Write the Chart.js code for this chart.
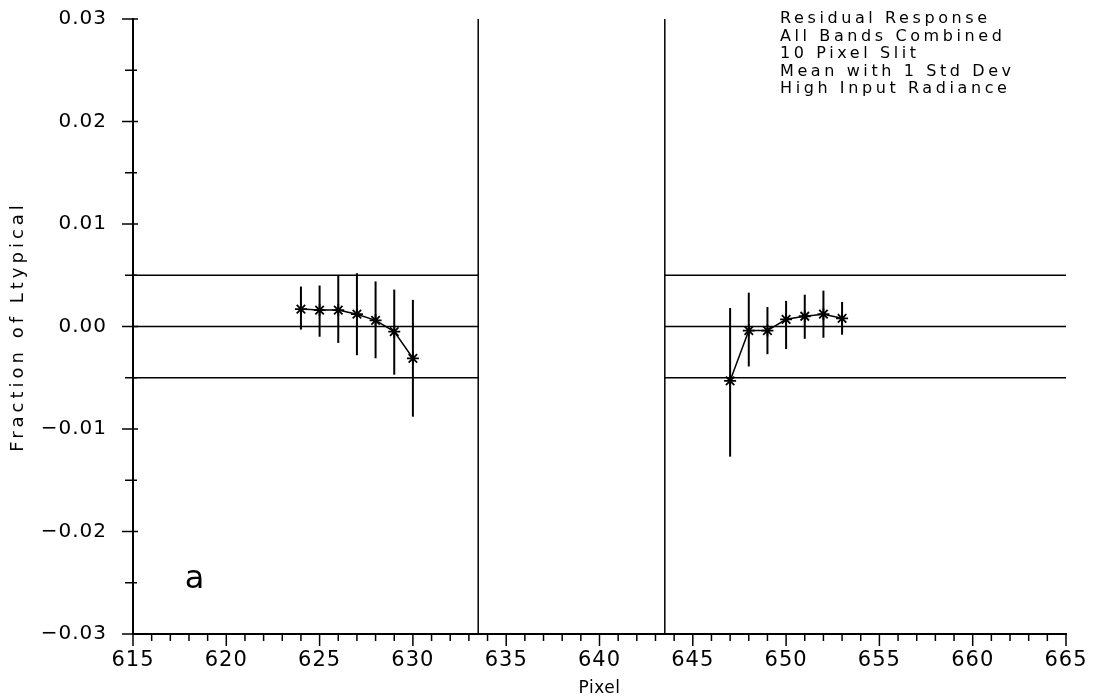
<!DOCTYPE html>
<html>
<head>
<meta charset="utf-8">
<title>Residual Response</title>
<script src="https://cdn.jsdelivr.net/npm/chart.js@4/dist/chart.umd.min.js"></script>
<style>
  html, body { margin: 0; padding: 0; background: #fff; }
  #wrap { width: 1093px; height: 700px; }
</style>
</head>
<body>
<div id="wrap"><canvas id="residualChart" width="1093" height="700"></canvas></div>
<script>
// pixels and mean residual with 1 std dev range
const pixelsLeft = [624, 625, 626, 627, 628, 629, 630];
const meanLeft = [0.0017, 0.0016, 0.0016, 0.0012, 0.0006, -0.0005, -0.0031];
const highLeft = [0.0039, 0.0040, 0.0050, 0.0052, 0.0044, 0.0036, 0.0026];
const lowLeft = [-0.0003, -0.0010, -0.0016, -0.0028, -0.0031, -0.0047, -0.0088];

const pixelsRight = [647, 648, 649, 650, 651, 652, 653];
const meanRight = [-0.0053, -0.0004, -0.0004, 0.0007, 0.0010, 0.0012, 0.0008];
const highRight = [0.0018, 0.0033, 0.0019, 0.0025, 0.0031, 0.0035, 0.0024];
const lowRight = [-0.0127, -0.0039, -0.0027, -0.0022, -0.0012, -0.0011, -0.0008];

// reference levels and the gap between the two pixel blocks
const refLevels = [0.005, 0, -0.005];
const gapEdges = [633.5, 643.5];

const xTicks = [615, 665];
const yTicks = [-0.03, 0.03];

const noteLines = [
  "Residual Response",
  "All Bands Combined",
  "10 Pixel Slit",
  "Mean with 1 Std Dev",
  "High Input Radiance",
];
const panelLabel = "a";
const xTitle = "Pixel";
const yTitle = "Fraction of Ltypical";

const FONT = "'DejaVu Sans', sans-serif";

const toPoints = (xs, ys) => xs.map((x, i) => ({ x: x, y: ys[i] }));

/**
 * Reference lines, error bars, ticks, titles and the notes
 */
const decorPlugin = {
  id: "decor",
  beforeDraw(chart) {
    chart.ctx.letterSpacing = "1px";
  },
  beforeDatasetsDraw(chart) {
    const { ctx, scales: { x, y } } = chart;
    const top = y.getPixelForValue(yTicks[1]);
    const bottom = y.getPixelForValue(yTicks[0]);
    ctx.save();
    ctx.strokeStyle = "#000";
    ctx.lineWidth = 1.5;
    // vertical gap edges
    gapEdges.forEach((g) => {
      const px = x.getPixelForValue(g);
      ctx.beginPath();
      ctx.moveTo(px, top);
      ctx.lineTo(px, bottom);
      ctx.stroke();
    });
    // horizontal reference levels in both blocks
    const segments = [[xTicks[0], gapEdges[0]], [gapEdges[1], xTicks[1]]];
    refLevels.forEach((lv) => {
      const py = y.getPixelForValue(lv);
      segments.forEach(([a, b]) => {
        ctx.beginPath();
        ctx.moveTo(x.getPixelForValue(a), py);
        ctx.lineTo(x.getPixelForValue(b), py);
        ctx.stroke();
      });
    });
    // error bars
    ctx.lineWidth = 2;
    const bars = [
      [pixelsLeft, lowLeft, highLeft],
      [pixelsRight, lowRight, highRight],
    ];
    bars.forEach(([xs, lo, hi]) => {
      xs.forEach((p, i) => {
        const px = x.getPixelForValue(p);
        ctx.beginPath();
        ctx.moveTo(px, y.getPixelForValue(lo[i]));
        ctx.lineTo(px, y.getPixelForValue(hi[i]));
        ctx.stroke();
      });
    });
    ctx.restore();
  },
  afterDraw(chart) {
    const { ctx, chartArea, scales: { x, y } } = chart;
    const axisY = y.getPixelForValue(yTicks[0]);
    const axisX = x.getPixelForValue(xTicks[0]);
    ctx.save();
    ctx.strokeStyle = "#000";
    ctx.lineWidth = 1.5;
    // x ticks, every pixel, longer every 5
    for (let v = xTicks[0]; v <= xTicks[1]; v++) {
      const px = x.getPixelForValue(v);
      const len = v % 5 === 0 ? 12 : 7;
      ctx.beginPath();
      ctx.moveTo(px, axisY);
      ctx.lineTo(px, axisY + len);
      ctx.stroke();
    }
    // y ticks, every 0.005, crossing the axis
    for (let k = -6; k <= 6; k++) {
      const py = y.getPixelForValue(k * 0.005);
      const major = k % 2 === 0;
      ctx.beginPath();
      ctx.moveTo(axisX - (major ? 11 : 8), py);
      ctx.lineTo(axisX + (major ? 5 : 4), py);
      ctx.stroke();
    }
    ctx.fillStyle = "#000";
    // axis titles
    ctx.textAlign = "center";
    ctx.textBaseline = "middle";
    ctx.font = "17px " + FONT;
    ctx.letterSpacing = "0.5px";
    ctx.fillText(xTitle, (chartArea.left + chartArea.right) / 2, 689);
    ctx.save();
    ctx.translate(18, (chartArea.top + chartArea.bottom) / 2);
    ctx.rotate(-Math.PI / 2);
    ctx.font = "18px " + FONT;
    ctx.letterSpacing = "4px";
    ctx.fillText(yTitle, 0, 0);
    ctx.restore();
    // notes block
    ctx.textAlign = "left";
    ctx.textBaseline = "top";
    ctx.font = "16px " + FONT;
    ctx.letterSpacing = "3.6px";
    noteLines.forEach((line, i) => {
      ctx.fillText(line, 780, 11 + i * 17.5);
    });
    // panel letter
    ctx.letterSpacing = "0px";
    ctx.font = "32px " + FONT;
    ctx.textAlign = "center";
    ctx.textBaseline = "middle";
    ctx.fillText(panelLabel, x.getPixelForValue(618.3), y.getPixelForValue(-0.0247));
    ctx.restore();
  },
};

const makeSeries = (xs, ys) => ({
  data: toPoints(xs, ys),
  borderColor: "#000",
  backgroundColor: "#000",
  borderWidth: 1.5,
  pointStyle: "star",
  pointRadius: 6,
  pointBorderWidth: 1.8,
  pointBorderColor: "#000",
  showLine: true,
  tension: 0,
});

const ctx = document.getElementById("residualChart").getContext("2d");

new Chart(ctx, {
  type: "scatter",
  data: {
    datasets: [makeSeries(pixelsLeft, meanLeft), makeSeries(pixelsRight, meanRight)],
  },
  options: {
    responsive: false,
    animation: false,
    layout: { padding: { top: 19, right: 27, left: 0, bottom: 0 } },
    plugins: {
      legend: { display: false },
      tooltip: { enabled: false },
    },
    scales: {
      x: {
        type: "linear",
        min: xTicks[0],
        max: xTicks[1],
        afterFit: (scale) => {
          scale.height = 66;
          scale.paddingLeft = 0;
          scale.paddingRight = 0;
        },
        grid: { display: false },
        border: { display: true, color: "#000", width: 2 },
        ticks: {
          stepSize: 5,
          padding: 6,
          color: "#000",
          font: { family: FONT, size: 21 },
          maxRotation: 0,
        },
      },
      y: {
        min: yTicks[0],
        max: yTicks[1],
        afterFit: (scale) => {
          scale.width = 133;
          scale.paddingTop = 0;
          scale.paddingBottom = 0;
        },
        grid: { display: false },
        border: { display: true, color: "#000", width: 2 },
        ticks: {
          stepSize: 0.01,
          padding: 18,
          color: "#000",
          font: { family: FONT, size: 20 },
          callback: (v) => {
            const val = Math.abs(v) < 1e-9 ? 0 : v;
            return val.toFixed(2).replace("-", "\u2212");
          },
        },
      },
    },
  },
  plugins: [decorPlugin],
});
</script>
</body>
</html>
